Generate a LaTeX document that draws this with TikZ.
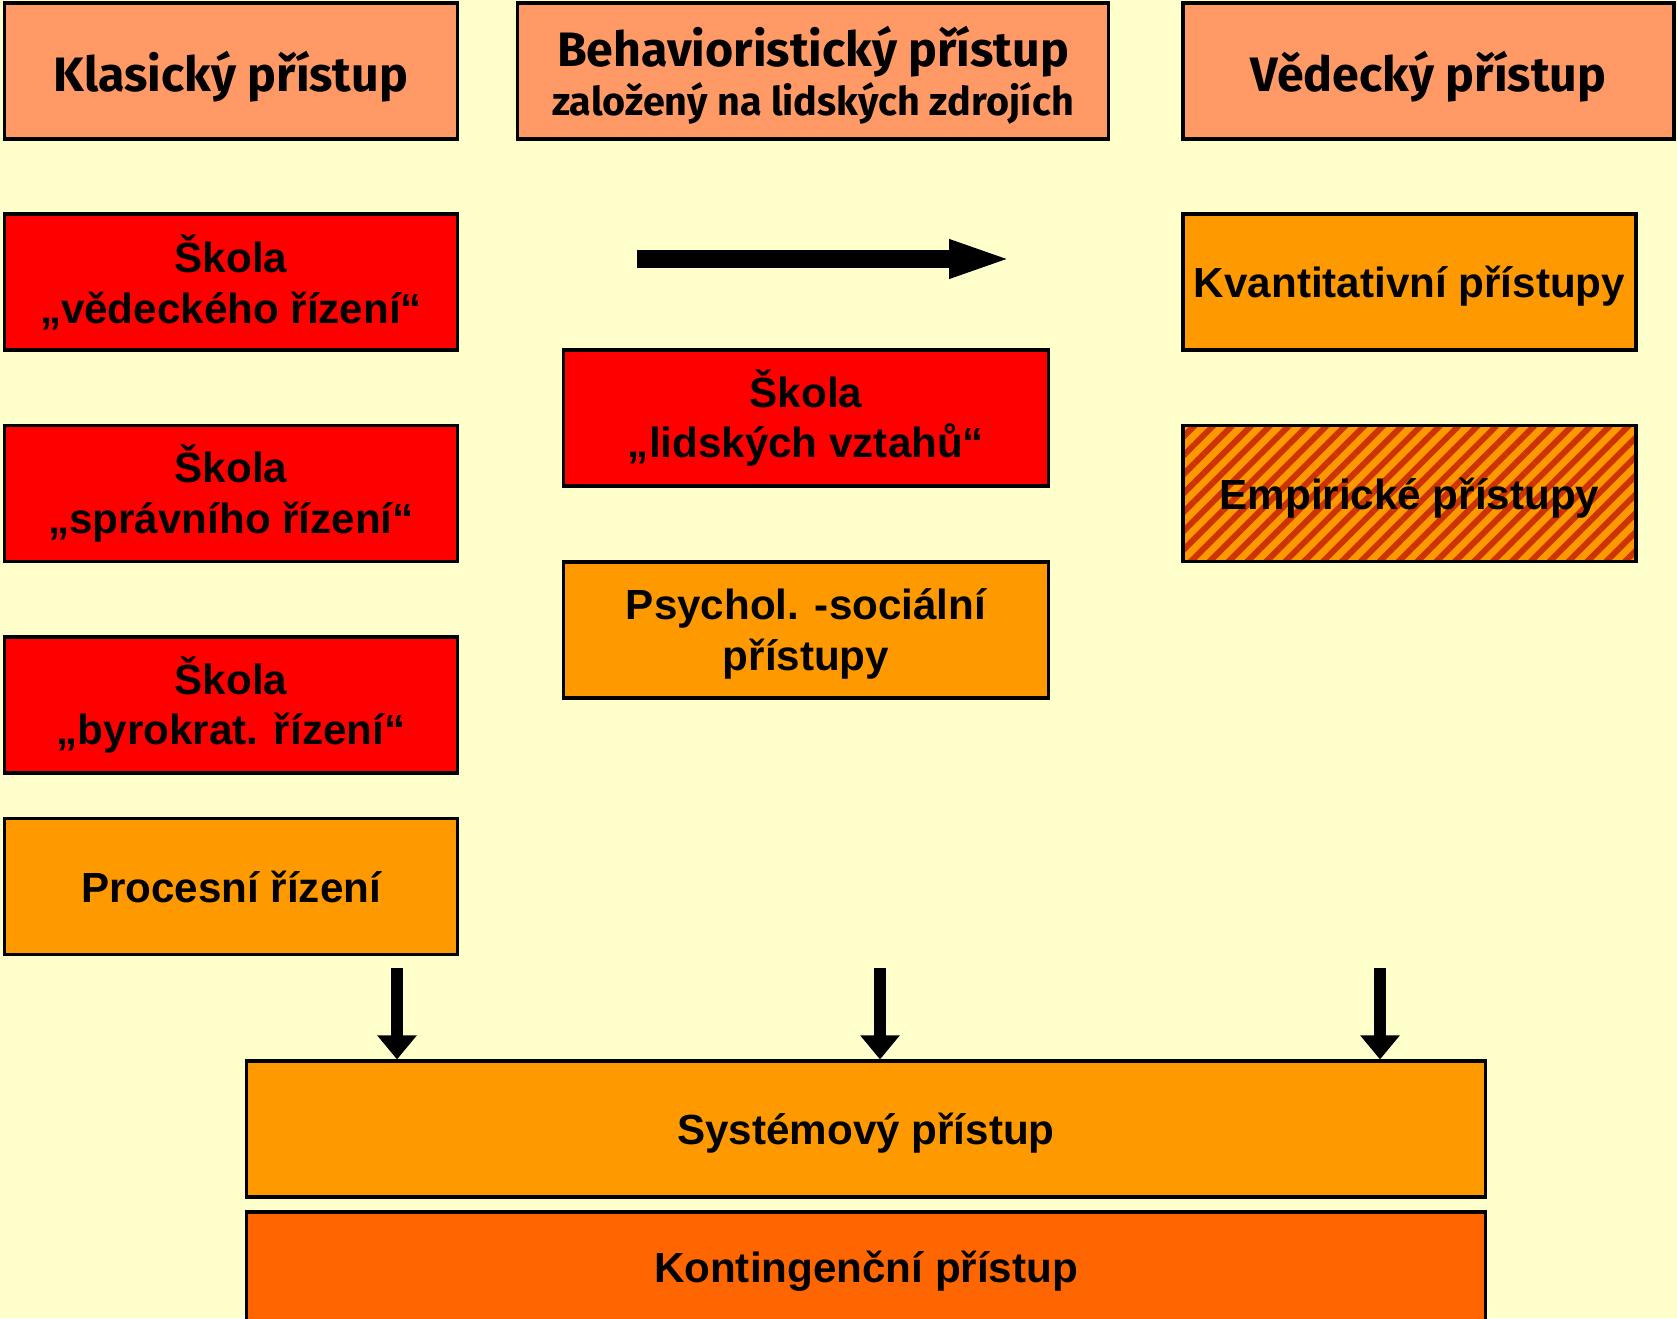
\documentclass[tikz,border=0pt]{standalone}
\usepackage{fontspec}
\setmainfont{Liberation Sans}
\newfontfamily\headfont{Fira Sans}
\usetikzlibrary{arrows.meta,patterns.meta}
\definecolor{bgyellow}{HTML}{FFFFCC}
\definecolor{headsalmon}{HTML}{FF9966}
\definecolor{boxred}{HTML}{FF0000}
\definecolor{boxorange}{HTML}{FF9900}
\definecolor{deeporange}{HTML}{FF6600}
\definecolor{stripecol}{HTML}{CC3300}
\tikzset{
  box/.style={draw=black, line width=1.8pt, align=center, inner sep=0pt,
    font=\bfseries\fontsize{24}{29}\selectfont},
  nodepth/.style={text depth=0pt},
  headbox/.style={box, nodepth, fill=headsalmon, minimum height=2.72cm,
    font=\headfont\bfseries\fontsize{27.5}{30}\selectfont},
  redbox/.style={box, fill=boxred, minimum width=9.07cm, minimum height=2.72cm},
  orangebox/.style={box, fill=boxorange, minimum width=9.07cm, minimum height=2.72cm},
  hatchbox/.style={orangebox, preaction={fill=boxorange},
    pattern={Lines[angle=45,distance=7.6pt,line width=3.4pt]}, pattern color=stripecol},
  bigarrow/.style={line width=0.36cm, -{Triangle[length=1.3cm 0 0,width=0.68cm 0 0]}},
  downarrow/.style={line width=0.24cm, -{Triangle[length=0.48cm 0 0,width=0.76cm 0 0]}}
}
\begin{document}
\begin{tikzpicture}
    \def\x{0.02}
    \def\y{-0.02}
    \fill[bgyellow] (0,0) rectangle (1677*\x, 1318*\y);
    \useasboundingbox (0,0) rectangle (1677*\x, 1318*\y);
    % headers
    \node[headbox, minimum width=9.07cm] (A0_0) at (231*\x, 71*\y) {Klasický přístup};
    \node[headbox, minimum width=11.81cm] (A0_1) at (813*\x, 71*\y)
      {Behavioristický přístup\\[-2pt]{\fontsize{22.5}{24}\selectfont založený na lidských zdrojích}};
    \node[headbox, minimum width=9.82cm] (A0_2) at (1428.5*\x, 71*\y) {Vědecký přístup};
    % left column
    \node[redbox] (A1_0) at (231*\x, 282*\y) {Škola\\„vědeckého řízení“};
    \node[redbox] (A2_0) at (231*\x, 493.6*\y) {Škola\\„správního řízení“};
    \node[redbox] (A3_0) at (231*\x, 705*\y) {Škola\\„byrokrat. řízení“};
    \node[orangebox] (A4_0) at (231*\x, 886.5*\y) {Procesní řízení};
    % middle column
    \node[redbox, minimum width=9.69cm] (A2_1) at (806*\x, 418*\y) {Škola\\„lidských vztahů“};
    \node[orangebox, nodepth, minimum width=9.69cm] (A3_1) at (806*\x, 630*\y) {Psychol. -sociální\\přístupy};
    % right column
    \node[orangebox, nodepth, minimum width=9.06cm] (A1_2) at (1409.5*\x, 282*\y) {Kvantitativní přístupy};
    \node[hatchbox, nodepth, minimum width=9.06cm] (A2_2) at (1409.5*\x, 493.6*\y) {Empirické přístupy};
    % bottom
    \node[orangebox, nodepth, minimum width=24.79cm] (A5_1) at (866*\x, 1129*\y) {Systémový přístup};
    \node[box, nodepth, fill=deeporange, minimum width=24.79cm, minimum height=2.2cm] (A6_1) at (866*\x, 1267*\y) {Kontingenční přístup};
    % arrows
    \coordinate (R0) at (637*\x, 259*\y);
    \coordinate (R1) at (1014*\x, 259*\y);
    \draw[bigarrow] (R0) -- (R1);
    \coordinate (D0) at (397*\x, 968*\y);
    \coordinate (D1) at (880*\x, 968*\y);
    \coordinate (D2) at (1380*\x, 968*\y);
    \draw[downarrow] (D0) -- (D0 |- A5_1.north);
    \draw[downarrow] (D1) -- (D1 |- A5_1.north);
    \draw[downarrow] (D2) -- (D2 |- A5_1.north);
  \end{tikzpicture}
\end{document}
